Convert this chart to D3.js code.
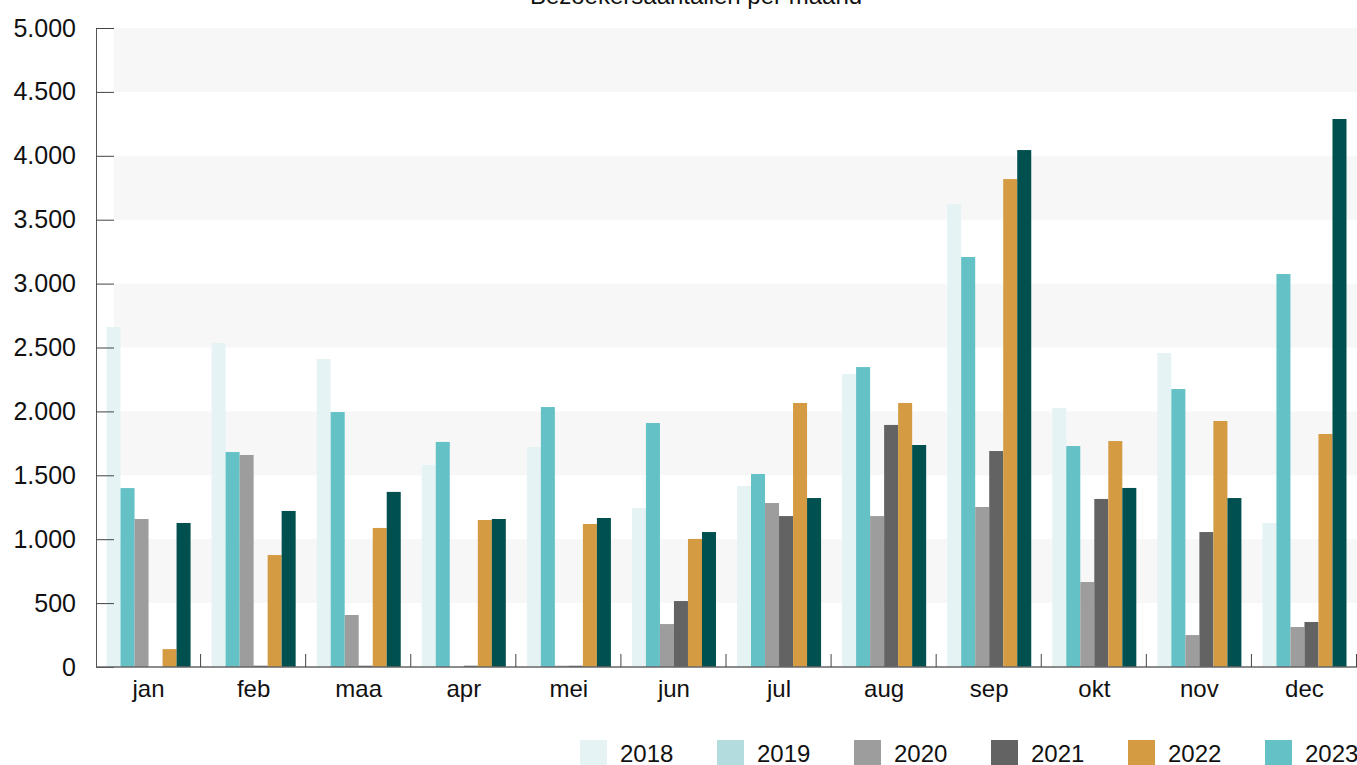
<!DOCTYPE html>
<html>
<head>
<meta charset="utf-8">
<script src="https://cdn.jsdelivr.net/npm/d3@7"></script>
<style>
  body { margin: 0; background: #fff; }
  text { font-family: "Liberation Sans", Arial, sans-serif; fill: #111; }
</style>
</head>
<body>
<div id="chart"></div>
<script>
// data
var months = ["jan", "feb", "maa", "apr", "mei", "jun", "jul", "aug", "sep", "okt", "nov", "dec"];
var years = ["2018", "2019", "2020", "2021", "2022", "2023"];

var v2018 = [2660, 2535, 2410, 1581, 1721, 1244, 1416, 2293, 3623, 2027, 2457, 1127];
var v2019 = [1400, 1682, 1995, 1761, 2034, 1909, 1510, 2347, 3208, 1729, 2175, 3075];
var v2020 = [1158, 1659, 407, 0, 10, 336, 1283, 1181, 1252, 665, 250, 313];
var v2021 = [0, 10, 10, 10, 10, 516, 1181, 1894, 1690, 1315, 1056, 352];
var v2022 = [140, 876, 1088, 1150, 1119, 1002, 2066, 2066, 3818, 1768, 1925, 1823];
var v2023 = [1127, 1221, 1370, 1158, 1166, 1056, 1322, 1737, 4045, 1401, 1322, 4288];

var series = [v2018, v2019, v2020, v2021, v2022, v2023];

// bar colours and (different) legend colours, as in the original
var barColors = ["#e5f3f4", "#64c1c5", "#9d9d9d", "#636363", "#d49b42", "#00504f"];
var legendColors = ["#e5f3f4", "#b2dcde", "#9d9d9d", "#636363", "#d49b42", "#64c1c5"];

var width = 1357, height = 765;
var plotLeft = 96, plotRight = 1357, plotTop = 28, plotBottom = 667;

var svg = d3.select("#chart")
    .append("svg")
    .attr("width", width)
    .attr("height", height);

var x = d3.scaleBand()
    .domain(months)
    .range([plotLeft, plotRight])
    .padding(0);

var xInner = d3.scaleBand()
    .domain(years)
    .range([0, x.bandwidth()])
    .paddingInner(0)
    .paddingOuter(0.75);

var y = d3.scaleLinear()
    .domain([0, 5000])
    .range([plotBottom, plotTop]);

// alternating background bands
var yt = y.ticks(10);
var bands = [];
for (var i = 0; i < yt.length - 1; i++) {
    if (i % 2 == 1) bands.push([yt[i], yt[i + 1]]);
}
svg.append("g")
    .selectAll("rect")
    .data(bands)
    .enter()
    .append("rect")
    .attr("x", plotLeft + 18)
    .attr("width", plotRight - plotLeft - 18)
    .attr("y", function(d) { return y(d[1]); })
    .attr("height", function(d) { return y(d[0]) - y(d[1]); })
    .style("fill", "#f7f7f7");

// bars
var rows = [];
series.forEach(function(vals, si) {
    vals.forEach(function(v, mi) {
        rows.push({ month: months[mi], year: years[si], value: v, color: barColors[si] });
    });
});

svg.append("g")
    .selectAll("rect")
    .data(rows)
    .enter()
    .append("rect")
    .attr("x", function(d) { return x(d.month) + xInner(d.year); })
    .attr("width", xInner.bandwidth())
    .attr("y", function(d) { return y(d.value); })
    .attr("height", function(d) { return y(0) - y(d.value); })
    .style("fill", function(d) { return d.color; });

// y axis
var yAxis = svg.append("g")
    .attr("transform", "translate(" + plotLeft + ",0)")
    .call(d3.axisLeft(y)
        .ticks(10)
        .tickSize(-18)
        .tickPadding(20)
        .tickFormat(function(d) { return d3.format(",")(d).replace(/,/g, "."); }));
yAxis.select(".domain").attr("stroke", "#555");
yAxis.selectAll(".tick line").attr("stroke", "#444");
yAxis.selectAll("text")
    .style("font-size", "25px")
    .style("font-family", "'Liberation Sans', Arial, sans-serif")
    .attr("fill", "#111");

// x axis line + boundary ticks
svg.append("line")
    .attr("x1", plotLeft).attr("x2", plotRight)
    .attr("y1", plotBottom).attr("y2", plotBottom)
    .attr("stroke", "#666")
    .attr("stroke-width", 1.5);

var bounds = months.map(function(m) { return x(m); }).concat([plotRight]);
svg.append("g")
    .selectAll("line")
    .data(bounds.slice(1))
    .enter()
    .append("line")
    .attr("x1", function(d) { return d - 0.5; })
    .attr("x2", function(d) { return d - 0.5; })
    .attr("y1", plotBottom)
    .attr("y2", plotBottom - 13)
    .attr("stroke", "#444");

svg.append("g")
    .selectAll("text")
    .data(months)
    .enter()
    .append("text")
    .attr("x", function(d) { return x(d) + x.bandwidth() / 2; })
    .attr("y", 697)
    .attr("text-anchor", "middle")
    .style("font-size", "24px")
    .text(function(d) { return d; });

// title, cut off at the top as in the original
svg.append("text")
    .attr("x", 696)
    .attr("y", 4)
    .attr("text-anchor", "middle")
    .style("font-size", "24px")
    .text("Bezoekersaantallen per maand");

// legend
var legend = svg.append("g")
    .selectAll("g")
    .data(years)
    .enter()
    .append("g")
    .attr("transform", function(d, i) { return "translate(" + (580 + i * 137) + ",740)"; });

legend.append("rect")
    .attr("width", 27)
    .attr("height", 26)
    .style("fill", function(d, i) { return legendColors[i]; });

legend.append("text")
    .attr("x", 40)
    .attr("y", 22)
    .style("font-size", "24px")
    .text(function(d) { return d; });
</script>
</body>
</html>
